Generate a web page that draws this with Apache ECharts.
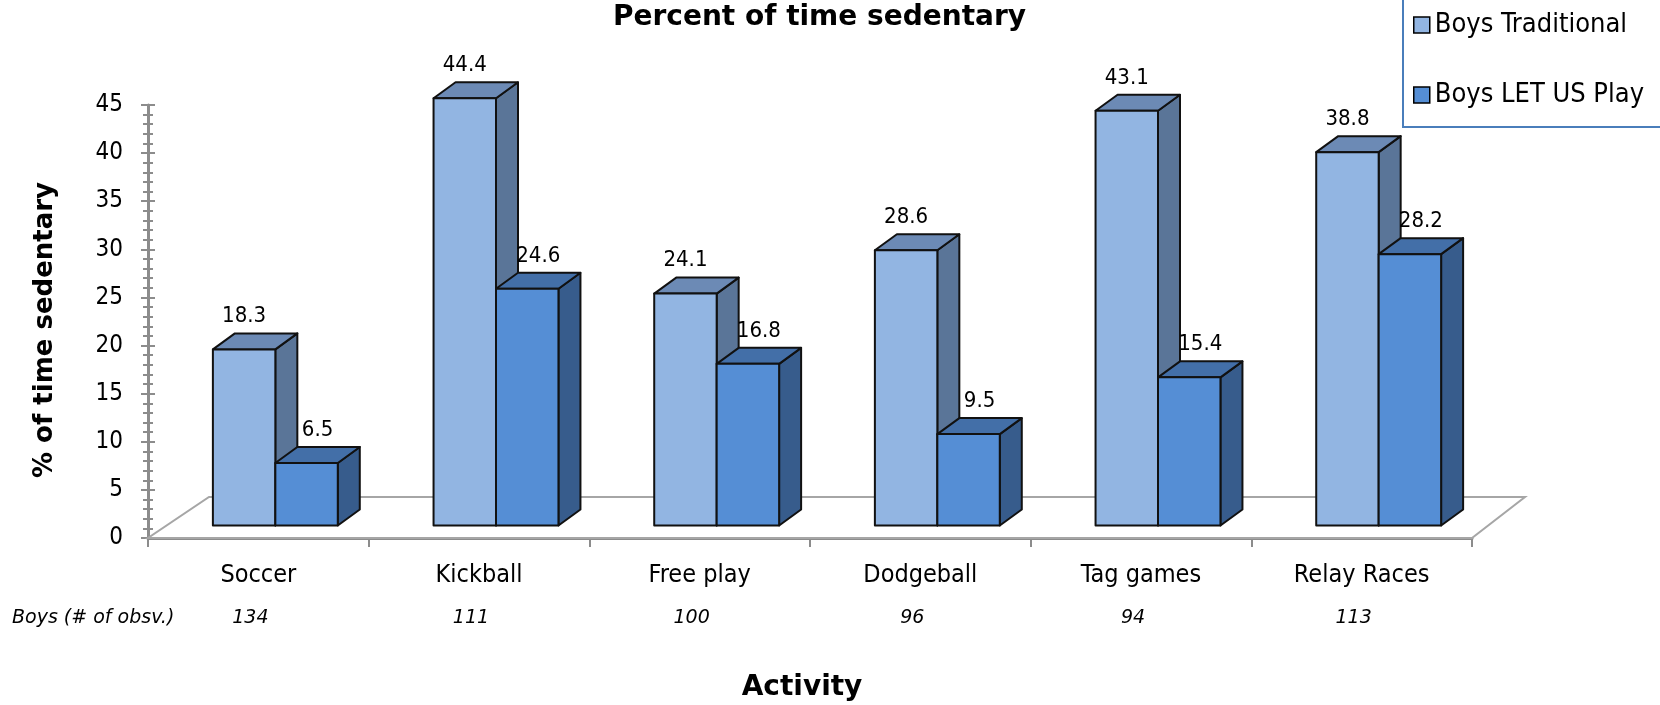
<!DOCTYPE html>
<html>
<head>
<meta charset="utf-8">
<script src="https://cdn.jsdelivr.net/npm/echarts@6/dist/echarts.min.js"></script>
<style>
  html, body { margin: 0; padding: 0; background: #ffffff; }
  #chart { width: 1660px; height: 705px; }
</style>
</head>
<body>
<div id="chart"></div>
<script>
// Activities observed and the share of time boys spent sedentary in each
const activities = ['Soccer', 'Kickball', 'Free play', 'Dodgeball', 'Tag games', 'Relay Races'];
const boysTraditional = [18.3, 44.4, 24.1, 28.6, 43.1, 38.8];
const boysLetUsPlay = [6.5, 24.6, 16.8, 9.5, 15.4, 28.2];
const observations = [134, 111, 100, 96, 94, 113];
const seriesNames = ['Boys Traditional', 'Boys LET US Play'];
const yTicks = { min: 0, max: 45, step: 5 };

const FONT = '"DejaVu Sans", Verdana, sans-serif';
const FONT_NARROW = '"DejaVu Sans Condensed", "DejaVu Sans", sans-serif';

// Pseudo-3D geometry (pixels)
const GEO = {
  barFrac: 0.283,        // width of one bar as share of a category slot
  shiftX: 17, shiftY: -12.5,   // bars sit a little back on the floor
  depthX: 22, depthY: -16,     // bar depth
  floorL: [61, -41], floorR: [53, -41],
  labelDx: [0, 11], labelDy: -33
};

const palette = [
  { front: '#92B5E2', top: '#6C8AB5', side: '#5A7598' },
  { front: '#558ED5', top: '#436FA8', side: '#375C8C' }
];

function barRenderer(sIdx) {
  const col = palette[sIdx];
  return function (params, api) {
    const i = api.value(0), v = api.value(1);
    const top = api.coord([i, v]);
    const base = api.coord([i, 0]);
    const slot = api.size([1, 0])[0];
    const bw = slot * GEO.barFrac;
    const x0 = top[0] - bw + sIdx * bw + GEO.shiftX;
    const x1 = x0 + bw;
    const yt = top[1] + GEO.shiftY;
    const yb = base[1] + GEO.shiftY;
    const dx = GEO.depthX, dy = GEO.depthY;
    const stroke = { stroke: '#111111', lineWidth: 2, lineJoin: 'round' };
    return {
      type: 'group',
      children: [
        { type: 'polygon', shape: { points: [[x1, yt], [x1 + dx, yt + dy], [x1 + dx, yb + dy], [x1, yb]] },
          style: Object.assign({ fill: col.side }, stroke) },
        { type: 'polygon', shape: { points: [[x0, yt], [x1, yt], [x1 + dx, yt + dy], [x0 + dx, yt + dy]] },
          style: Object.assign({ fill: col.top }, stroke) },
        { type: 'rect', shape: { x: x0, y: yt, width: bw, height: yb - yt },
          style: Object.assign({ fill: col.front }, stroke) },
        { type: 'text',
          style: { text: v.toFixed(1), x: (x0 + x1) / 2 + GEO.labelDx[sIdx], y: yt + GEO.labelDy,
                   fill: '#000', fontSize: 22, fontFamily: FONT_NARROW, align: 'center', verticalAlign: 'middle' } }
      ]
    };
  };
}

function floorRenderer(params, api) {
  const slot = api.size([1, 0])[0];
  const left = api.coord([0, 0]);
  const right = api.coord([activities.length - 1, 0]);
  const xl = left[0] - slot / 2, xr = right[0] + slot / 2, y = left[1];
  return {
    type: 'polygon',
    shape: { points: [[xl, y], [xr, y], [xr + GEO.floorR[0], y + GEO.floorR[1]], [xl + GEO.floorL[0], y + GEO.floorL[1]]] },
    style: { fill: 'none', stroke: '#A6A6A6', lineWidth: 2 }
  };
}

const chart = echarts.init(document.getElementById('chart'), null, { renderer: 'canvas' });

const axisGray = '#8C8C8C';

chart.setOption({
  backgroundColor: '#ffffff',
  animation: false,
  textStyle: { fontFamily: FONT },
  title: {
    text: 'Percent of time sedentary',
    left: 613, top: 3, padding: 0,
    textStyle: { fontSize: 28, fontWeight: 'bold', color: '#000', fontFamily: FONT, lineHeight: 30 }
  },
  legend: {
    orient: 'vertical', left: 1403, top: -15,
    data: seriesNames,
    icon: 'rect', itemWidth: 16, itemHeight: 16, itemGap: 42,
    padding: [26, 140, 18, 10],
    borderColor: '#4A7EBB', borderWidth: 2,
    itemStyle: { borderColor: '#000', borderWidth: 1.5 },
    textStyle: { fontSize: 27, fontFamily: FONT_NARROW, color: '#000', lineHeight: 28 },
    selectedMode: false
  },
  grid: { left: 148, right: 188, top: 105, bottom: 167, containLabel: false },
  xAxis: [
    {
      type: 'category', data: activities, position: 'bottom',
      axisLine: { lineStyle: { color: axisGray, width: 3 } },
      axisTick: { show: true, length: 9, lineStyle: { color: axisGray, width: 2 } },
      axisLabel: { fontSize: 25, color: '#000', fontFamily: FONT_NARROW, margin: 24, lineHeight: 26 }
    },
    {
      type: 'category', data: observations.map(String), position: 'bottom',
      axisLine: { show: false }, axisTick: { show: false },
      axisLabel: { fontSize: 19, fontStyle: 'italic', color: '#000', fontFamily: FONT,
                   margin: 69, lineHeight: 22, padding: [0, 16, 0, 0] }
    }
  ],
  yAxis: [
    {
      type: 'value', min: yTicks.min, max: yTicks.max, interval: yTicks.step,
      splitLine: { show: false },
      axisLine: { show: true, lineStyle: { color: axisGray, width: 3 } },
      axisTick: { show: true, length: 7, lineStyle: { color: axisGray, width: 2 } },
      minorTick: { show: true, splitNumber: 5, length: 5, lineStyle: { color: axisGray, width: 2 } },
      axisLabel: { fontSize: 24, color: '#000', fontFamily: FONT_NARROW, margin: 25 }
    },
    {
      type: 'value', min: yTicks.min, max: yTicks.max, interval: yTicks.step, position: 'left',
      splitLine: { show: false },
      axisLine: { show: false },
      axisTick: { show: true, inside: true, length: 7, lineStyle: { color: axisGray, width: 2 } },
      minorTick: { show: true, splitNumber: 5, length: 5, lineStyle: { color: axisGray, width: 2 } },
      axisLabel: { show: false }
    }
  ],
  graphic: [
    { type: 'text', x: 45, y: 330, rotation: Math.PI / 2,
      style: { text: '% of time sedentary', fill: '#000', fontSize: 26, fontWeight: 'bold', fontFamily: FONT,
               align: 'center', verticalAlign: 'middle' } },
    { type: 'text', x: 802, y: 688,
      style: { text: 'Activity', fill: '#000', fontSize: 28, fontWeight: 'bold', fontFamily: FONT,
               align: 'center', verticalAlign: 'middle' } },
    { type: 'text', x: 12, y: 618,
      style: { text: 'Boys (# of obsv.)', fill: '#000', fontSize: 19, fontStyle: 'italic', fontFamily: FONT,
               align: 'left', verticalAlign: 'middle' } }
  ],
  series: [
    {
      type: 'custom', name: 'floor', z: 1, silent: true,
      renderItem: floorRenderer, data: [[0, 0]]
    },
    {
      type: 'custom', name: seriesNames[0], z: 2,
      itemStyle: { color: palette[0].front },
      renderItem: barRenderer(0),
      data: boysTraditional.map((v, i) => [i, v])
    },
    {
      type: 'custom', name: seriesNames[1], z: 3,
      itemStyle: { color: palette[1].front },
      renderItem: barRenderer(1),
      data: boysLetUsPlay.map((v, i) => [i, v])
    }
  ]
});
</script>
</body>
</html>
